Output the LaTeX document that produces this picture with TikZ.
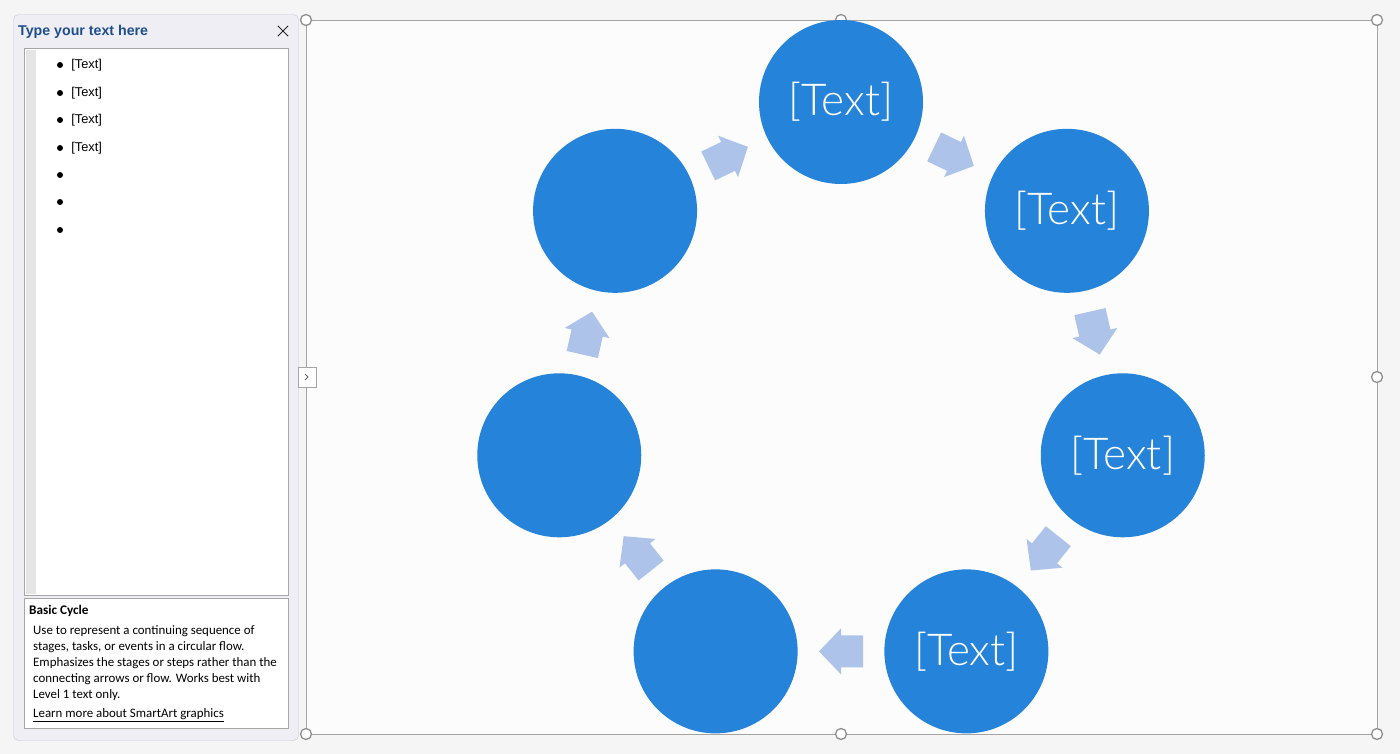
\documentclass[tikz,border=0pt]{standalone}
\usepackage{fontspec}
\setmainfont{Liberation Sans}
\newfontfamily\thinfont{Lato Light}
\newfontfamily\uifont{Carlito}
\usetikzlibrary{positioning,calc}
\definecolor{pagebg}{HTML}{F5F5F5}
\definecolor{canvasbg}{HTML}{FCFCFC}
\definecolor{stageblue}{HTML}{2583D9}
\definecolor{flowblue}{HTML}{AEC3EA}
\definecolor{panelbg}{HTML}{EEEEF4}
\definecolor{panelline}{HTML}{C3CAD4}
\definecolor{boxline}{HTML}{A6A6A6}
\definecolor{titleblue}{HTML}{1F4E8C}
\definecolor{handle}{HTML}{8E8E8E}

\begin{document}
\begin{tikzpicture}[x=1pt,y=-1pt,
    stage/.style={circle,fill=stageblue,minimum size=164pt,inner sep=0pt,text=white,font=\thinfont\fontsize{44}{44}\selectfont},
    sizer/.style={circle,draw=handle,line width=1.3pt,fill=white,minimum size=11pt,inner sep=0pt},
    bullet/.style={circle,fill=black,minimum size=6pt,inner sep=0pt},
    item/.style={inner sep=0pt,font=\fontsize{12.8}{12.8}\selectfont},
    blockarrow/.pic={\fill[flowblue] (-22,-16) -- (0,-16) -- (0,-23) -- (22,0) -- (0,23) -- (0,16) -- (-22,16) -- cycle;}]
    \fill[pagebg] (0,0) rectangle (1400,754);
    \useasboundingbox (0,0) rectangle (1400,754);
    % text pane
    \draw[panelline,fill=panelbg,rounded corners=5pt] (13.5,14.5) rectangle (298.5,740.5);
    \node[anchor=west,inner sep=0pt,text=titleblue,font=\bfseries\fontsize{14.2}{14.2}\selectfont] (title) at (18,32) {Type your text here};
    \node[minimum size=10pt,inner sep=0pt] (close) at (283,31) {};
    \draw[black!85,line width=1pt] (close.north west) -- (close.south east) (close.south west) -- (close.north east);
    \draw[boxline,fill=white] (24.5,48.5) rectangle (288.5,595.5);
    \fill[black!10] (26,50) rectangle (36,594);
    \foreach \y [count=\i] in {65,93,120,148,175,202,230}
        \node[bullet] (b\i) at (60,\y) {};
    \foreach \i in {1,...,4}
        \node[item,right=8pt of b\i] (t\i) {[Text]};
    \draw[boxline,fill=white] (24.5,598.5) rectangle (288.5,728.5);
    \node[anchor=west,inner sep=0pt,font=\uifont\bfseries\fontsize{13.2}{13.2}\selectfont] (dtitle) at (29,611) {Basic Cycle};
    \node[anchor=north west,align=left,inner sep=0pt,font=\uifont\fontsize{12.9}{16}\selectfont] (dtext) at (33,625) {Use to represent a continuing sequence of\\stages, tasks, or events in a circular flow.\\Emphasizes the stages or steps rather than the\\connecting arrows or flow. Works best with\\Level 1 text only.};
    \node[anchor=west,inner sep=0pt,font=\uifont\fontsize{12.9}{12.9}\selectfont] (dlink) at (33,715) {\underline{Learn more about SmartArt graphics}};
    % drawing canvas
    \draw[handle!80,fill=canvasbg] (306,20) rectangle (1377,734);
    \node[draw=boxline,fill=white,minimum width=18pt,minimum height=20pt,inner sep=0pt] (tab) at (307,377) {};
    \draw[black!60,line width=0.8pt] ($(tab)+(-2,-3)$) -- ($(tab)+(1,0)$) -- ($(tab)+(-2,3)$);
    \foreach \x/\y in {306/20,841/20,1377/20,1377/377,306/734,841/734,1377/734}
        \node[sizer] at (\x,\y) {};
    % cycle
    \coordinate (hub) at (841,391);
    \foreach \i in {0,...,6}
        \node[stage] (s\i) at ($(hub)+({-90+\i*360/7}:289)$) {\ifnum\i<4 [Text]\fi};
    \foreach \i/\j in {0/1,1/2,2/3,3/4,4/5,5/6,6/0}
        \pic[rotate={-(\i+0.5)*360/7}] at ($(s\i)!0.5!(s\j)$) {blockarrow};
\end{tikzpicture}
\end{document}
